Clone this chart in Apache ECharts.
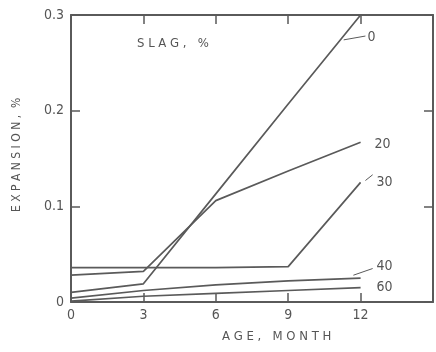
<!DOCTYPE html>
<html><head><meta charset="utf-8">
<script src="https://cdn.jsdelivr.net/npm/echarts@6/dist/echarts.min.js"></script>
<style>html,body{margin:0;padding:0;background:#fff}#c{width:436px;height:352px}</style>
</head><body><div id="c"></div>
<script>
const months = [0, 3, 6, 9, 12];
const slag0  = [0.010, 0.019, 0.113, 0.207, 0.300];
const slag20 = [0.028, 0.032, 0.106, 0.137, 0.167];
const slag30 = [0.036, 0.036, 0.036, 0.037, 0.125];
const slag40 = [0.004, 0.012, 0.018, 0.022, 0.025];
const slag60 = [0.001, 0.006, 0.009, 0.012, 0.015];
const seriesNames = ['0', '20', '30', '40', '60'];
const xTicks = [0, 3, 6, 9, 12];
const yTicks = [0, 0.1, 0.2, 0.3];
const leader0 = [[11.3, 0.274], [12.2, 0.278]];
const leader30 = [[12.2, 0.127], [12.5, 0.133]];
const leader40 = [[11.7, 0.028], [12.5, 0.035]];

const col = '#5a5a5a';
const txt = '#555';
const font = '"Liberation Sans Narrow", "DejaVu Sans Condensed", sans-serif';
const offsets = [[3, 22], [10, 2], [12, 0], [12, -12], [12, 0]];
const allVals = [slag0, slag20, slag30, slag40, slag60];
const leaders = [leader0, null, leader30, leader40, null];

const chart = echarts.init(document.getElementById('c'));
const series = allVals.map((vals, i) => {
  const s = {
    type: 'line', name: seriesNames[i], data: months.map((m, j) => [m, vals[j]]),
    showSymbol: false, symbol: 'none',
    lineStyle: { color: col, width: 1.7 }, animation: false, silent: true,
    endLabel: { show: true, distance: 4, offset: offsets[i], formatter: seriesNames[i],
      color: txt, fontSize: 14, fontFamily: font }
  };
  if (leaders[i]) {
    s.markLine = { silent: true, symbol: 'none', animation: false,
      lineStyle: { color: col, width: 1, type: 'solid' }, label: { show: false },
      data: [[{ coord: leaders[i][0] }, { coord: leaders[i][1] }]] };
  }
  return s;
});

const axisCommon = {
  type: 'value', splitLine: { show: false },
  axisLine: { show: true, onZero: false, lineStyle: { color: col, width: 2 } },
  axisTick: { show: true, inside: true, length: 9, lineStyle: { color: col, width: 1.5 } }
};

chart.setOption({
  animation: false,
  grid: { left: 71, right: 3, top: 15, bottom: 50 },
  xAxis: [
    Object.assign({}, axisCommon, { min: 0, max: 15, interval: 3, position: 'bottom',
      axisLabel: { color: txt, fontSize: 14, fontFamily: font, margin: 6,
        formatter: v => xTicks.indexOf(v) >= 0 ? String(v) : '' } }),
    Object.assign({}, axisCommon, { min: 0, max: 15, interval: 3, position: 'top',
      axisLabel: { show: false } })
  ],
  yAxis: [
    Object.assign({}, axisCommon, { min: 0, max: 0.3, interval: 0.1, position: 'left',
      axisLabel: { color: txt, fontSize: 14, fontFamily: font, margin: 7,
        formatter: v => { const t = yTicks.find(y => Math.abs(y - v) < 1e-9); return t === undefined ? '' : (t === 0 ? '0' : t.toFixed(1)); } } }),
    Object.assign({}, axisCommon, { min: 0, max: 0.3, interval: 0.1, position: 'right',
      axisLabel: { show: false } })
  ],
  graphic: [
    { type: 'text', left: 137, top: 37, style: { text: 'S L A G ,   %', fill: txt, font: '13px ' + font } },
    { type: 'text', left: 222, top: 330, style: { text: 'A G E ,   M O N T H', fill: txt, font: '13px ' + font } },
    { type: 'text', x: 11, y: 212, rotation: Math.PI / 2, style: { text: 'E X P A N S I O N ,  %', fill: txt, font: '12px ' + font } }
  ],
  series
});
</script></body></html>
